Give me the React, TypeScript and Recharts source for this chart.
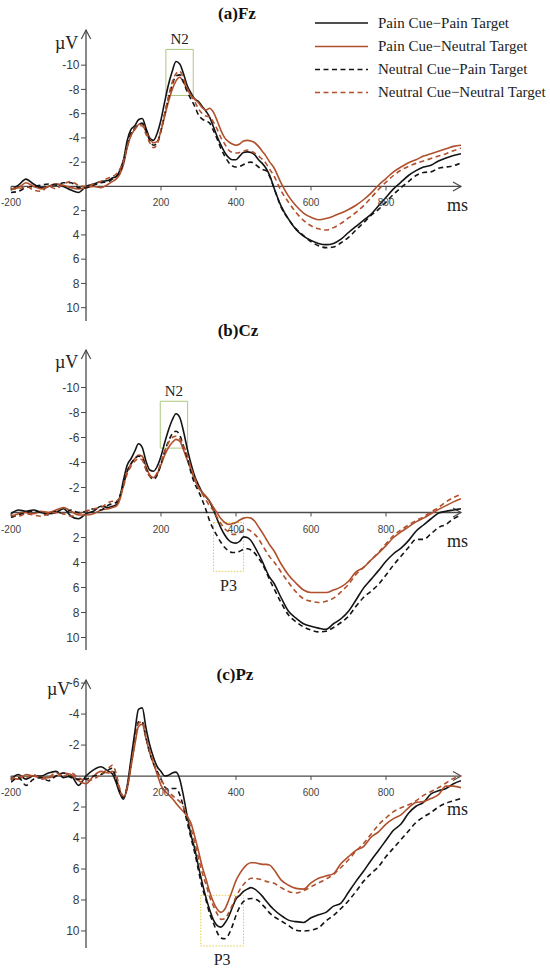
import React from 'react';
import { LineChart, Line, XAxis, YAxis, ReferenceLine, ReferenceDot, ReferenceArea, Label } from 'recharts';

// time axis (ms)
const TIME = [
  -200, -180, -160, -140, -120, -100, -80, -60, -40, -20, 0, 20, 40, 60,
  70, 80, 90, 100, 110, 120, 130, 140, 150, 160, 170, 180, 190, 200, 210, 220, 230, 240, 250, 260, 270, 280, 290, 300,
  310, 320, 330, 340, 350, 360, 370, 380, 390, 400, 410, 420, 430, 440, 450, 460, 470, 480, 490, 500,
  520, 540, 560, 580, 600, 620, 640, 660, 680, 700, 720, 740, 760, 780, 800, 820, 840, 860, 880, 900, 920, 940, 960, 980, 1000,
];

// (a) Fz
const FZ_PAIN_PAIN = [
  0.3, -0.1, -0.6, -0.2, 0.1, 0.0, -0.2, 0.0, 0.3, 0.5, 0.0, -0.2, -0.4, -0.5,
  -0.7, -0.8, -1.3, -2.2, -3.8, -4.7, -5.0, -5.5, -5.6, -4.8, -4.0, -3.8, -4.4, -5.5, -7.0, -8.4, -9.5, -10.3, -10.1, -9.3, -8.3, -7.7, -7.2, -7.0,
  -6.6, -6.2, -5.7, -4.9, -4.1, -3.4, -2.8, -2.4, -2.2, -2.2, -2.5, -2.8, -2.85, -2.8, -2.6, -2.2, -1.9, -1.5, -0.9, 0.0,
  1.6, 2.7, 3.55, 4.1, 4.45, 4.7, 4.8, 4.7, 4.35, 3.8, 3.3, 2.8, 2.3, 1.6, 0.9, 0.2, -0.35, -0.9, -1.3, -1.6, -1.75, -2.1, -2.35, -2.55, -2.7,
];
const FZ_PAIN_NEUTRAL = [
  0.2, 0.1, -0.3, 0.0, 0.2, 0.0, -0.2, -0.1, 0.1, 0.2, 0.1, 0.0, 0.1, -0.2,
  -0.4, -0.6, -1.0, -1.8, -3.2, -4.2, -4.7, -5.1, -5.2, -4.5, -3.9, -3.6, -3.7, -4.6, -5.8, -7.0, -8.0, -8.7, -9.0, -8.6, -8.0, -7.5, -7.2, -6.9,
  -6.5, -6.3, -6.45, -6.1, -5.4, -4.6, -4.0, -3.7, -3.5, -3.4, -3.5, -3.75, -3.8, -3.75, -3.6, -3.3, -2.9, -2.5, -2.0, -1.6,
  -0.3, 0.8, 1.6, 2.2, 2.55, 2.75, 2.65, 2.45, 2.2, 1.9, 1.55, 1.1, 0.55, -0.1, -0.65, -1.2, -1.6, -1.95, -2.2, -2.5, -2.7, -2.9, -3.1, -3.3, -3.4,
];
const FZ_NEUTRAL_PAIN = [
  0.5, 0.4, 0.1, 0.0, -0.1, -0.2, -0.1, -0.3, -0.3, 0.1, 0.1, -0.1, -0.3, -0.4,
  -0.6, -0.8, -1.2, -2.0, -3.4, -4.4, -4.8, -5.1, -5.2, -4.6, -3.8, -3.4, -3.6, -4.6, -6.0, -7.3, -8.4, -9.1, -9.2, -8.6, -7.8, -7.2, -6.6, -5.9,
  -5.55, -5.4, -5.2, -4.6, -3.9, -3.1, -2.5, -2.0, -1.7, -1.6, -1.65, -1.8, -1.95, -2.0, -1.85, -1.6, -1.4, -1.3, -0.8, 0.0,
  1.7, 2.7, 3.5, 4.05, 4.55, 4.9, 5.05, 5.0, 4.65, 4.2, 3.6, 3.0, 2.4, 1.9, 1.3, 0.65, 0.1, -0.4, -0.9, -1.15, -1.2, -1.5, -1.6, -1.7, -1.95,
];
const FZ_NEUTRAL_NEUTRAL = [
  0.2, 0.2, 0.0, 0.3, 0.4, 0.0, 0.2, -0.2, -0.4, -0.1, 0.0, -0.2, -0.4, -0.7,
  -0.8, -1.0, -1.4, -2.1, -3.3, -4.2, -4.7, -5.0, -5.0, -4.3, -3.6, -3.2, -3.5, -4.6, -6.0, -7.4, -8.6, -9.3, -9.5, -8.9, -8.1, -7.5, -7.0, -6.4,
  -6.0, -5.8, -5.75, -5.3, -4.7, -4.0, -3.5, -3.0, -2.8, -2.75, -2.8, -2.9, -3.0, -2.9, -2.75, -2.5, -2.25, -1.9, -1.4, -0.95,
  0.35, 1.3, 2.15, 2.8, 3.25, 3.5, 3.6, 3.4, 3.05, 2.6, 2.15, 1.6, 0.95, 0.25, -0.35, -0.9, -1.35, -1.65, -1.9, -2.1, -2.3, -2.5, -2.7, -2.95, -3.15,
];

// (b) Cz
const CZ_PAIN_PAIN = [
  0.1, -0.2, -0.1, -0.2, 0.0, 0.1, 0.0, -0.3, 0.3, 0.5, 0.1, -0.1, -0.5, -0.4,
  -0.5, -0.6, -1.2, -2.6, -3.8, -4.3, -4.9, -5.5, -5.2, -4.1, -3.4, -3.3, -3.7, -4.5, -5.6, -6.6, -7.4, -7.9, -7.6, -6.5, -5.1, -3.9, -2.9, -2.2,
  -1.6, -1.25, -0.85, -0.2, 0.55, 1.25, 1.8, 2.2, 2.4, 2.45, 2.3, 1.95, 2.0, 2.25, 2.75, 3.3, 3.9, 4.6, 5.2, 5.6,
  6.8, 7.9, 8.45, 8.9, 9.1, 9.25, 9.35, 8.9, 8.5, 7.9, 7.0, 6.05, 5.35, 4.65, 3.9, 3.3, 2.85, 2.25, 1.5, 1.0, 0.5, 0.05, -0.1, -0.2, -0.3,
];
const CZ_PAIN_NEUTRAL = [
  0.3, 0.1, 0.0, 0.1, -0.1, 0.0, -0.2, -0.4, -0.1, 0.2, 0.2, 0.1, -0.2, -0.3,
  -0.4, -0.5, -1.0, -2.2, -3.3, -3.9, -4.3, -4.6, -4.5, -3.7, -3.0, -2.8, -3.1, -3.8, -4.6, -5.2, -5.6, -5.85, -5.7, -5.0, -4.2, -3.4, -2.6, -2.0,
  -1.6, -1.3, -0.9, -0.4, 0.05, 0.5, 0.8, 0.95, 0.9, 0.8, 0.6, 0.45, 0.4, 0.45, 0.7, 1.15, 1.6, 2.1, 2.6, 3.0,
  4.1, 5.0, 5.65, 6.2, 6.4, 6.4, 6.4, 6.2, 5.95, 5.5, 4.75, 4.4, 3.8, 3.25, 2.65, 2.0, 1.55, 1.15, 0.75, 0.45, 0.1, -0.25, -0.55, -0.85, -1.1,
];
const CZ_NEUTRAL_PAIN = [
  0.4, 0.2, 0.0, -0.1, 0.0, 0.2, -0.1, 0.1, -0.2, 0.0, -0.1, -0.3, -0.2, -0.6,
  -0.7, -0.8, -1.3, -2.3, -3.3, -3.9, -4.3, -4.5, -4.4, -3.5, -2.9, -2.65, -3.0, -3.9, -4.9, -5.7, -6.3, -6.5, -6.2, -5.3, -4.4, -3.2, -2.3, -1.7,
  -1.0, -0.2, 0.7, 1.35, 1.9, 2.4, 2.8, 3.05, 3.2, 3.2, 3.1, 2.95, 2.9, 3.0, 3.25, 3.65, 4.1, 4.7, 5.4, 6.0,
  7.2, 8.2, 8.75, 9.15, 9.4, 9.55, 9.5, 9.2, 8.8, 8.3, 7.5, 6.8, 6.3, 5.75, 5.0, 4.2, 3.5, 2.8, 2.15, 2.15, 1.7, 1.2, 0.95, 0.5, 0.2,
];
const CZ_NEUTRAL_NEUTRAL = [
  0.2, 0.3, 0.1, 0.2, 0.3, 0.1, 0.0, 0.1, 0.3, 0.1, -0.1, -0.3, -0.4, -0.8,
  -0.9, -0.9, -1.2, -2.1, -3.1, -3.7, -4.1, -4.3, -4.2, -3.4, -2.9, -2.8, -3.2, -4.0, -4.9, -5.6, -6.0, -6.1, -5.9, -5.3, -4.6, -3.6, -2.8, -2.0,
  -1.5, -1.0, -0.5, -0.15, 0.4, 0.9, 1.3, 1.55, 1.75, 1.75, 1.6, 1.4, 1.35, 1.5, 1.75, 2.1, 2.6, 3.1, 3.55, 3.9,
  4.75, 5.6, 6.35, 6.9, 7.1, 7.2, 7.1, 6.85, 6.35, 5.75, 4.95, 4.4, 3.8, 3.2, 2.5, 1.85, 1.4, 1.0, 0.65, 0.35, -0.05, -0.4, -0.85, -1.2, -1.45,
];

// (c) Pz
const PZ_PAIN_PAIN = [
  0.2, -0.1, 0.2, 0.0, 0.0, -0.2, -0.3, 0.1, 0.0, 0.6, 0.0, -0.4, -0.6, -0.3,
  -0.15, 0.4, 1.1, 1.5, 0.6, -1.1, -2.8, -4.3, -4.4, -3.1, -2.0, -1.2, -0.6, -0.3, 0.0, -0.05, -0.2, -0.25, 0.2, 1.3, 2.6, 3.8, 4.7, 5.85,
  6.9, 7.85, 8.65, 9.3, 9.65, 9.75, 9.5, 9.1, 8.5, 7.95, 7.7, 7.45, 7.3, 7.2, 7.3, 7.5, 7.75, 8.05, 8.35, 8.6,
  9.0, 9.3, 9.4, 9.45, 9.15, 8.95, 8.8, 8.4, 8.2, 7.5, 6.8, 6.15, 5.45, 4.8, 4.15, 3.5, 3.1, 2.4, 1.95, 1.7, 1.15, 0.95, 0.8, 0.5, 0.3,
];
const PZ_PAIN_NEUTRAL = [
  0.1, 0.2, -0.1, 0.0, 0.1, 0.1, 0.0, -0.2, -0.1, 0.3, 0.5, 0.0, -0.3, -0.2,
  -0.3, 0.1, 0.9, 1.4, 0.8, -0.6, -2.0, -3.2, -3.35, -2.4, -1.5, -0.8, -0.1, 0.6, 0.95, 1.2, 1.45, 1.75, 2.05, 2.3, 2.6, 3.05, 3.9, 4.85,
  5.85, 6.65, 7.5, 8.15, 8.6, 8.8, 8.6, 8.05, 7.4, 6.75, 6.3, 5.95, 5.7, 5.6, 5.6, 5.65, 5.7, 5.7, 5.75, 6.0,
  6.7, 7.05, 7.25, 7.3, 6.9, 6.6, 6.45, 6.3, 5.65, 5.2, 4.8, 4.55, 3.95, 3.6, 3.1, 2.75, 2.5, 2.05, 1.7, 1.65, 1.45, 1.2, 0.65, 0.65, 0.75,
];
const PZ_NEUTRAL_PAIN = [
  0.4, 0.1, 0.6, 0.2, 0.1, 0.3, 0.0, -0.2, 0.1, 0.2, 0.2, 0.0, -0.1, -0.4,
  -0.5, 0.2, 1.0, 1.4, 0.7, -0.8, -2.3, -3.5, -3.5, -2.5, -1.5, -0.8, -0.3, 0.2, 0.7, 0.85, 0.8, 0.8, 1.2, 2.0, 3.0, 4.0, 4.95, 6.1,
  7.2, 8.0, 8.9, 9.5, 10.1, 10.45, 10.5, 10.25, 9.7, 9.0, 8.45, 8.1, 7.95, 7.9, 7.95, 8.05, 8.3, 8.55, 8.85, 9.05,
  9.35, 9.65, 9.95, 10.0, 9.95, 9.8, 9.35, 9.0, 8.55, 8.05, 7.45, 6.8, 6.3, 5.85, 5.2, 4.65, 4.1, 3.55, 3.0, 2.65, 2.35, 2.0, 1.75, 1.6, 1.45,
];
const PZ_NEUTRAL_NEUTRAL = [
  0.3, 0.0, 0.1, -0.1, 0.2, 0.1, -0.2, 0.0, -0.2, 0.1, 0.3, 0.2, -0.1, -0.5,
  -0.7, -0.2, 0.8, 1.3, 0.7, -0.7, -2.1, -3.4, -3.5, -2.5, -1.6, -0.9, -0.2, 0.2, 0.65, 1.0, 1.25, 1.45, 1.65, 2.0, 2.6, 3.4, 4.3, 5.3,
  6.25, 7.0, 7.8, 8.4, 8.9, 9.25, 9.2, 8.85, 8.35, 7.8, 7.35, 7.0, 6.75, 6.6, 6.6, 6.65, 6.7, 6.8, 6.85, 6.9,
  7.2, 7.45, 7.55, 7.4, 7.15, 6.9, 6.65, 6.35, 5.9, 5.4, 4.85, 4.35, 3.75, 3.15, 2.7, 2.3, 2.05, 1.85, 1.6, 1.25, 1.0, 0.75, 0.45, 0.15, 0.0,
];

const X_TICKS = [-200, 200, 400, 600, 800];
const Y_TICKS_AB = [-10, -8, -6, -4, -2, 2, 4, 6, 8, 10];
const Y_TICKS_C = [-6, -4, -2, 2, 4, 6, 8, 10];
const X_DOMAIN = [-200, 1000];

const BLACK = '#141414';
const BROWN = '#B0502C';
const AXIS = '#4a4a4a';
const SERIF = '"Liberation Serif", "Times New Roman", serif';
const SANS = '"Liberation Sans", Arial, sans-serif';

const SERIES = [
  { key: 'pp', name: 'Pain Cue\u2212Pain Target', color: BLACK, dash: undefined as string | undefined },
  { key: 'pn', name: 'Pain Cue\u2212Neutral Target', color: BROWN, dash: undefined as string | undefined },
  { key: 'np', name: 'Neutral Cue\u2212Pain Target', color: BLACK, dash: '5 3.5' },
  { key: 'nn', name: 'Neutral Cue\u2212Neutral Target', color: BROWN, dash: '5 3.5' },
];

function buildRows(pp: number[], pn: number[], np: number[], nn: number[]) {
  return TIME.map((t, i) => ({ t, pp: pp[i], pn: pn[i], np: np[i], nn: nn[i] }));
}

const PAD_TOP = 10;
const PAD_BOTTOM = 22;

const XAxisLine = (p: any) => {
  const xs = Math.min(p.x1, p.x2);
  const xe = Math.max(p.x1, p.x2);
  const y = p.y1;
  return (
    <g>
      <line x1={xs} y1={y} x2={xe} y2={y} stroke={AXIS} strokeWidth={1.3} />
      <polyline points={`${xe - 8},${y - 4.5} ${xe},${y} ${xe - 8},${y + 4.5}`} fill="none" stroke={AXIS} strokeWidth={1.2} />
    </g>
  );
};

const YAxisLine = (p: any) => {
  const yt = Math.min(p.y1, p.y2);
  const yb = Math.max(p.y1, p.y2);
  const x = p.x1;
  return (
    <g>
      <line x1={x} y1={yt} x2={x} y2={yb} stroke={AXIS} strokeWidth={1.3} />
      <polyline points={`${x - 4.7},${yt + 9} ${x},${yt} ${x + 4.7},${yt + 9}`} fill="none" stroke={AXIS} strokeWidth={1.2} />
    </g>
  );
};

const xTickShape = (label: number) => (p: any) => (
  <g>
    <line x1={p.cx} y1={p.cy} x2={p.cx} y2={p.cy + 4} stroke={AXIS} strokeWidth={1} />
    <text x={p.cx} y={p.cy + 20} textAnchor="middle" fontSize={10} fontFamily={SANS} fill="#444">{label}</text>
  </g>
);

const yTickShape = (label: number) => (p: any) => (
  <g>
    <line x1={p.cx - 5} y1={p.cy} x2={p.cx} y2={p.cy} stroke={AXIS} strokeWidth={1} />
    <text x={p.cx - 6.5} y={p.cy} dy="0.36em" textAnchor="end" fontSize={12} fontFamily={SANS} fill="#3a3a3a">{label}</text>
  </g>
);

type Box = { x1: number; x2: number; y1: number; y2: number; label: string; pos: 'top' | 'bottom'; color: string; dash?: string; size: number };

function Panel(props: { data: any[]; top: number; height: number; domain: number[]; yTicks: number[]; boxes: Box[] }) {
  const { data, top, height, domain, yTicks, boxes } = props;
  return (
    <div style={{ position: 'absolute', left: 0, top: top - PAD_TOP }}>
      <LineChart width={550} height={height + PAD_TOP + PAD_BOTTOM} data={data} margin={{ top: PAD_TOP, right: 89, bottom: PAD_BOTTOM, left: 11 }}>
        <XAxis type="number" dataKey="t" domain={X_DOMAIN} hide allowDataOverflow />
        <YAxis type="number" domain={domain} reversed hide allowDataOverflow />
        {boxes.map((b) => (
          <ReferenceArea
            key={b.label + b.x1}
            x1={b.x1}
            x2={b.x2}
            y1={b.y1}
            y2={b.y2}
            fill="none"
            fillOpacity={0}
            stroke={b.color}
            strokeWidth={1}
            strokeDasharray={b.dash}
            ifOverflow="visible"
          >
            <Label value={b.label} position={b.pos} offset={b.pos === 'top' ? 5 : 8} fill="#222" fontSize={b.size} fontFamily={SERIF} />
          </ReferenceArea>
        ))}
        <ReferenceLine y={0} shape={XAxisLine} ifOverflow="visible" />
        <ReferenceLine x={0} shape={YAxisLine} ifOverflow="visible" />
        {X_TICKS.map((v) => (
          <ReferenceDot key={'x' + v} x={v} y={0} r={1} shape={xTickShape(v)} ifOverflow="visible" />
        ))}
        {yTicks.map((v) => (
          <ReferenceDot key={'y' + v} x={0} y={v} r={1} shape={yTickShape(v)} ifOverflow="visible" />
        ))}
        {SERIES.map((s) => (
          <Line
            key={s.key}
            dataKey={s.key}
            name={s.name}
            type="monotone"
            stroke={s.color}
            strokeWidth={1.6}
            strokeDasharray={s.dash}
            dot={false}
            activeDot={false}
            isAnimationActive={false}
          />
        ))}
      </LineChart>
    </div>
  );
}

const FZ_ROWS = buildRows(FZ_PAIN_PAIN, FZ_PAIN_NEUTRAL, FZ_NEUTRAL_PAIN, FZ_NEUTRAL_NEUTRAL);
const CZ_ROWS = buildRows(CZ_PAIN_PAIN, CZ_PAIN_NEUTRAL, CZ_NEUTRAL_PAIN, CZ_NEUTRAL_NEUTRAL);
const PZ_ROWS = buildRows(PZ_PAIN_PAIN, PZ_PAIN_NEUTRAL, PZ_NEUTRAL_PAIN, PZ_NEUTRAL_NEUTRAL);

const GREEN = '#a9c77c';
const YELLOW = '#e2cc4a';

export default function App() {
  const legendRows = [23, 46.5, 69.5, 92.5];
  return (
    <div style={{ position: 'absolute', left: 0, top: 0, width: 550, height: 969, background: '#fff', overflow: 'hidden' }}>
      <Panel
        data={FZ_ROWS}
        top={30}
        height={291}
        domain={[-12.9, 11.1]}
        yTicks={Y_TICKS_AB}
        boxes={[{ x1: 213, x2: 286, y1: -11.3, y2: -7.5, label: 'N2', pos: 'top', color: GREEN, size: 15 }]}
      />
      <Panel
        data={CZ_ROWS}
        top={350}
        height={300}
        domain={[-13, 11]}
        yTicks={Y_TICKS_AB}
        boxes={[
          { x1: 198, x2: 271, y1: -8.9, y2: -5.15, label: 'N2', pos: 'top', color: GREEN, size: 15 },
          { x1: 340, x2: 420, y1: 0.8, y2: 4.7, label: 'P3', pos: 'bottom', color: YELLOW, dash: '1.5 1.5', size: 16 },
        ]}
      />
      <Panel
        data={PZ_ROWS}
        top={680}
        height={268}
        domain={[-6.2, 11.1]}
        yTicks={Y_TICKS_C}
        boxes={[{ x1: 306, x2: 420, y1: 7.7, y2: 10.97, label: 'P3', pos: 'bottom', color: YELLOW, dash: '1.5 1.5', size: 16 }]}
      />
      <svg width={550} height={969} style={{ position: 'absolute', left: 0, top: 0, pointerEvents: 'none' }}>
        <text x={237} y={18.5} textAnchor="middle" fontSize={17} fontWeight="bold" fontFamily={SERIF} fill="#111">(a)Fz</text>
        <text x={238} y={335.5} textAnchor="middle" fontSize={17} fontWeight="bold" fontFamily={SERIF} fill="#111">(b)Cz</text>
        <text x={235} y={680} textAnchor="middle" fontSize={17} fontWeight="bold" fontFamily={SERIF} fill="#111">(c)Pz</text>

        <text x={55} y={48.5} fontSize={18} fontFamily={SERIF} fill="#222">µV</text>
        <text x={55} y={367.5} fontSize={18} fontFamily={SERIF} fill="#222">µV</text>
        <text x={47} y={695} fontSize={18} fontFamily={SERIF} fill="#222">µV</text>

        <text x={447} y={211} fontSize={18} fontFamily={SERIF} fill="#222">ms</text>
        <text x={447} y={547} fontSize={18} fontFamily={SERIF} fill="#222">ms</text>
        <text x={447} y={815} fontSize={18} fontFamily={SERIF} fill="#222">ms</text>

        {SERIES.map((s, i) => (
          <g key={s.key}>
            <line x1={315} y1={legendRows[i]} x2={368} y2={legendRows[i]} stroke={s.color} strokeWidth={1.6} strokeDasharray={s.dash} />
            <text x={378} y={legendRows[i] + 4.8} fontSize={15} fontFamily={SERIF} fill="#222">{s.name}</text>
          </g>
        ))}
      </svg>
    </div>
  );
}
